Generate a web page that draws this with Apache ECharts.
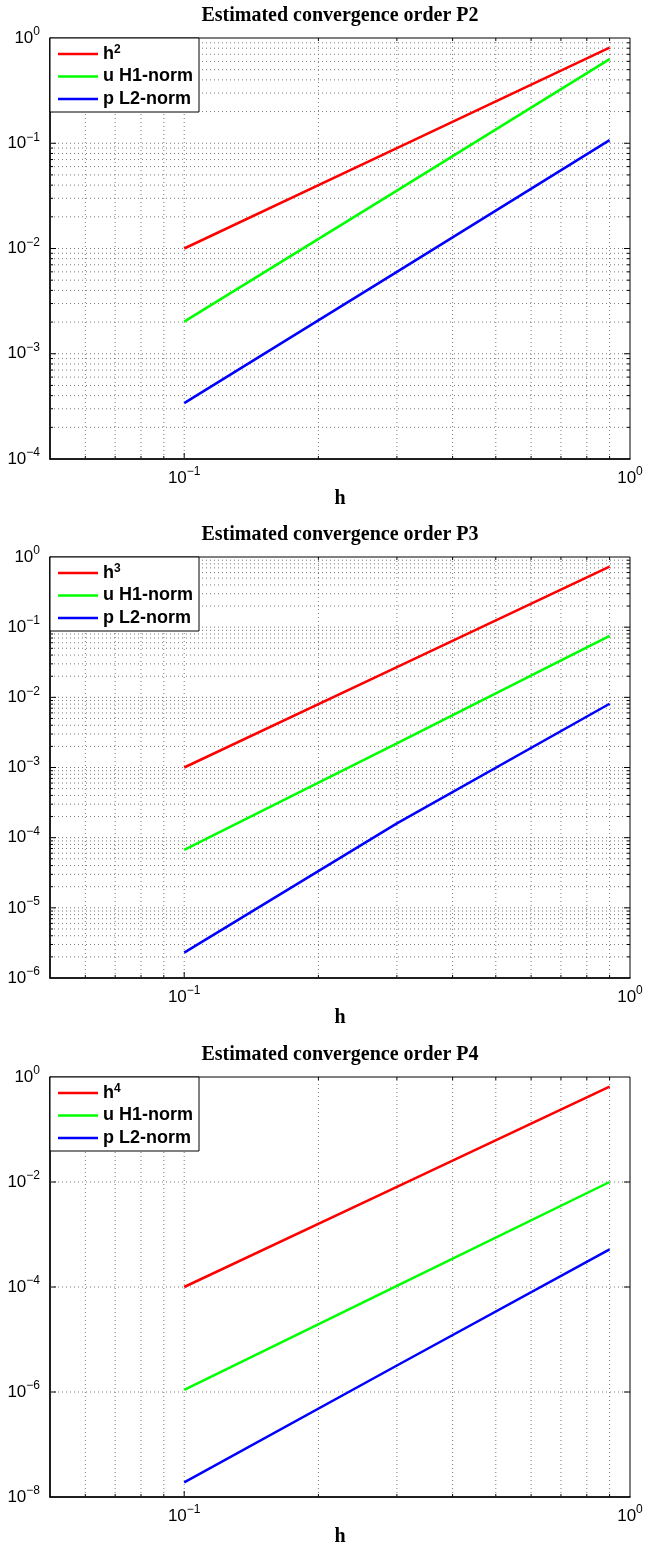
<!DOCTYPE html>
<html>
<head>
<meta charset="utf-8">
<script src="https://cdn.jsdelivr.net/npm/echarts@6/dist/echarts.min.js"></script>
<style>
  html, body { margin: 0; padding: 0; background: #fff; }
  #chart { width: 646px; height: 1549px; }
</style>
</head>
<body>
<div id="chart"></div>
<script>
const hVals = [0.1, 0.3, 0.9];

// P2
const p2Ref = [0.01, 0.09, 0.81];
const p2U = [0.00202, 0.0355, 0.63];
const p2P = [0.00034, 0.0060, 0.107];
// P3
const p3Ref = [0.001, 0.027, 0.729];
const p3U = [0.000067, 0.0022, 0.075];
const p3P = [0.0000023, 0.00016, 0.0081];
// P4
const p4Ref = [0.0001, 0.0081, 0.656];
const p4U = [0.0000011, 0.000105, 0.0100];
const p4P = [0.000000019, 0.0000032, 0.00052];

const titles = ['Estimated convergence order P2', 'Estimated convergence order P3', 'Estimated convergence order P4'];
const refNames = ['h^2', 'h^3', 'h^4'];
const xRange = [0.05, 1];
const yRanges = [[1e-4, 1], [1e-6, 1], [1e-8, 1]];
const yLabelStep = [1, 1, 2];
const xMajorGrid = [0.1];
const xMinorGrid = [0.06, 0.07, 0.08, 0.09, 0.2, 0.3, 0.4, 0.5, 0.6, 0.7, 0.8, 0.9];

const sans = 'Liberation Sans';
const serif = 'Liberation Serif';
const gridTops = [38, 557, 1077];
const gridHeights = [421, 421, 420];

function exp10(v) { return Math.log10(v); }

// grid lines / ticks for one panel: [x, y, orient(0 vertical,1 horizontal), major]
function gridLines(k) {
  const yr = yRanges[k];
  const lo = Math.round(exp10(yr[0])), hi = Math.round(exp10(yr[1]));
  const out = [];
  xMajorGrid.forEach(v => out.push([v, yr[0], 0, 1]));
  xMinorGrid.forEach(v => out.push([v, yr[0], 0, 0]));
  for (let e = lo; e <= hi; e += yLabelStep[k]) {
    if (e !== lo && e !== hi) out.push([xRange[0], Math.pow(10, e), 1, 1]);
  }
  if (yLabelStep[k] === 1) {
    for (let e = lo; e < hi; e++) {
      for (let m = 2; m <= 9; m++) out.push([xRange[0], m * Math.pow(10, e), 1, 0]);
    }
  }
  return out;
}

function drawGrid(k) {
  const yr = yRanges[k];
  return function (params, api) {
    const vert = api.value(2) === 0;
    const len = api.value(3) ? 6 : 3;
    let a, b;
    if (vert) {
      a = api.coord([api.value(0), yr[0]]);
      b = api.coord([api.value(0), yr[1]]);
    } else {
      a = api.coord([xRange[0], api.value(1)]);
      b = api.coord([xRange[1], api.value(1)]);
    }
    const dotted = { stroke: '#7a7a7a', lineWidth: 1, lineDash: [1, 3] };
    const solid = { stroke: '#000', lineWidth: 1 };
    const children = [{ type: 'line', shape: { x1: a[0], y1: a[1], x2: b[0], y2: b[1] }, style: dotted }];
    if (vert) {
      children.push({ type: 'line', shape: { x1: a[0], y1: a[1], x2: a[0], y2: a[1] - len }, style: solid });
      children.push({ type: 'line', shape: { x1: b[0], y1: b[1], x2: b[0], y2: b[1] + len }, style: solid });
    } else {
      children.push({ type: 'line', shape: { x1: a[0], y1: a[1], x2: a[0] + len, y2: a[1] }, style: solid });
      children.push({ type: 'line', shape: { x1: b[0], y1: b[1], x2: b[0] - len, y2: b[1] }, style: solid });
    }
    return { type: 'group', children: children };
  };
}

function powLabel(step) {
  return function (v) {
    const l = exp10(v);
    const e = Math.round(l);
    if (Math.abs(l - e) > 1e-6) return '';
    if (e % step !== 0) return '';
    return '{b|10}{s|' + (e < 0 ? '\u2212' : '') + Math.abs(e) + '}';
  };
}

const labelRich = {
  b: { fontSize: 17, fontFamily: sans, color: '#000', lineHeight: 18, padding: [6, 0, 0, 0] },
  s: { fontSize: 12, fontFamily: sans, color: '#000', lineHeight: 12, verticalAlign: 'top' }
};
const legendRich = {
  b: { fontSize: 18, fontFamily: sans, fontWeight: 'bold', color: '#000', lineHeight: 20, padding: [2, 0, 2, 0] },
  s: { fontSize: 12, fontFamily: sans, fontWeight: 'bold', color: '#000', lineHeight: 12, verticalAlign: 'top' }
};

const seriesData = [[p2Ref, p2U, p2P], [p3Ref, p3U, p3P], [p4Ref, p4U, p4P]];
const colors = ['#ff0000', '#00ff00', '#0000ff'];

const grid = [], xAxis = [], yAxis = [], series = [], legend = [], title = [];
for (let k = 0; k < 3; k++) {
  grid.push({ left: 50, top: gridTops[k], width: 580, height: gridHeights[k], show: true, borderColor: '#000', borderWidth: 1 });
  title.push({
    text: titles[k], left: 340, textAlign: 'center', top: gridTops[k] - 32, padding: 0,
    textStyle: { fontFamily: serif, fontWeight: 'bold', fontSize: 20, color: '#000' }
  });
  xAxis.push({
    type: 'log', logBase: 10, gridIndex: k, min: xRange[0], max: xRange[1],
    name: 'h', nameLocation: 'middle', nameGap: 30,
    nameTextStyle: { fontFamily: serif, fontWeight: 'bold', fontSize: 20, color: '#000' },
    axisLine: { lineStyle: { color: '#000', width: 1.5 } },
    axisTick: { show: false }, splitLine: { show: false },
    axisLabel: { formatter: powLabel(1), margin: 7, fontSize: 17, rich: labelRich }
  });
  yAxis.push({
    type: 'log', logBase: 10, gridIndex: k, min: yRanges[k][0], max: yRanges[k][1],
    axisLine: { lineStyle: { color: '#000', width: 1.5 } },
    axisTick: { show: false }, splitLine: { show: false },
    axisLabel: { formatter: powLabel(yLabelStep[k]), margin: 10, fontSize: 17, padding: [0, 0, 6, 0], rich: labelRich }
  });
  series.push({
    type: 'custom', xAxisIndex: k, yAxisIndex: k, z: 1, silent: true,
    renderItem: drawGrid(k), encode: { x: 0, y: 1 }, data: gridLines(k)
  });
  const names = [refNames[k], 'u H1-norm', 'p L2-norm'];
  names.forEach((n, j) => {
    series.push({
      type: 'line', name: n, xAxisIndex: k, yAxisIndex: k, z: 3,
      color: colors[j], showSymbol: false, symbol: 'none',
      lineStyle: { width: 2.5, color: colors[j] },
      data: hVals.map((h, i) => [h, seriesData[k][j][i]])
    });
  });
  legend.push({
    data: names, left: 50, top: gridTops[k], orient: 'vertical',
    padding: [5, 6, 2, 8], itemGap: 0.5, itemWidth: 40, itemHeight: 2.5, icon: 'rect',
    backgroundColor: '#fff', borderColor: '#000', borderWidth: 1, selectedMode: false,
    formatter: function (n) {
      if (n.indexOf('^') > 0) { const p = n.split('^'); return '{b|' + p[0] + '}{s|' + p[1] + '}'; }
      return '{b|' + n + '}';
    },
    textStyle: { rich: legendRich }
  });
}

const chart = echarts.init(document.getElementById('chart'));
chart.setOption({
  animation: false,
  backgroundColor: '#fff',
  title: title,
  legend: legend,
  grid: grid,
  xAxis: xAxis,
  yAxis: yAxis,
  series: series
});
</script>
</body>
</html>
